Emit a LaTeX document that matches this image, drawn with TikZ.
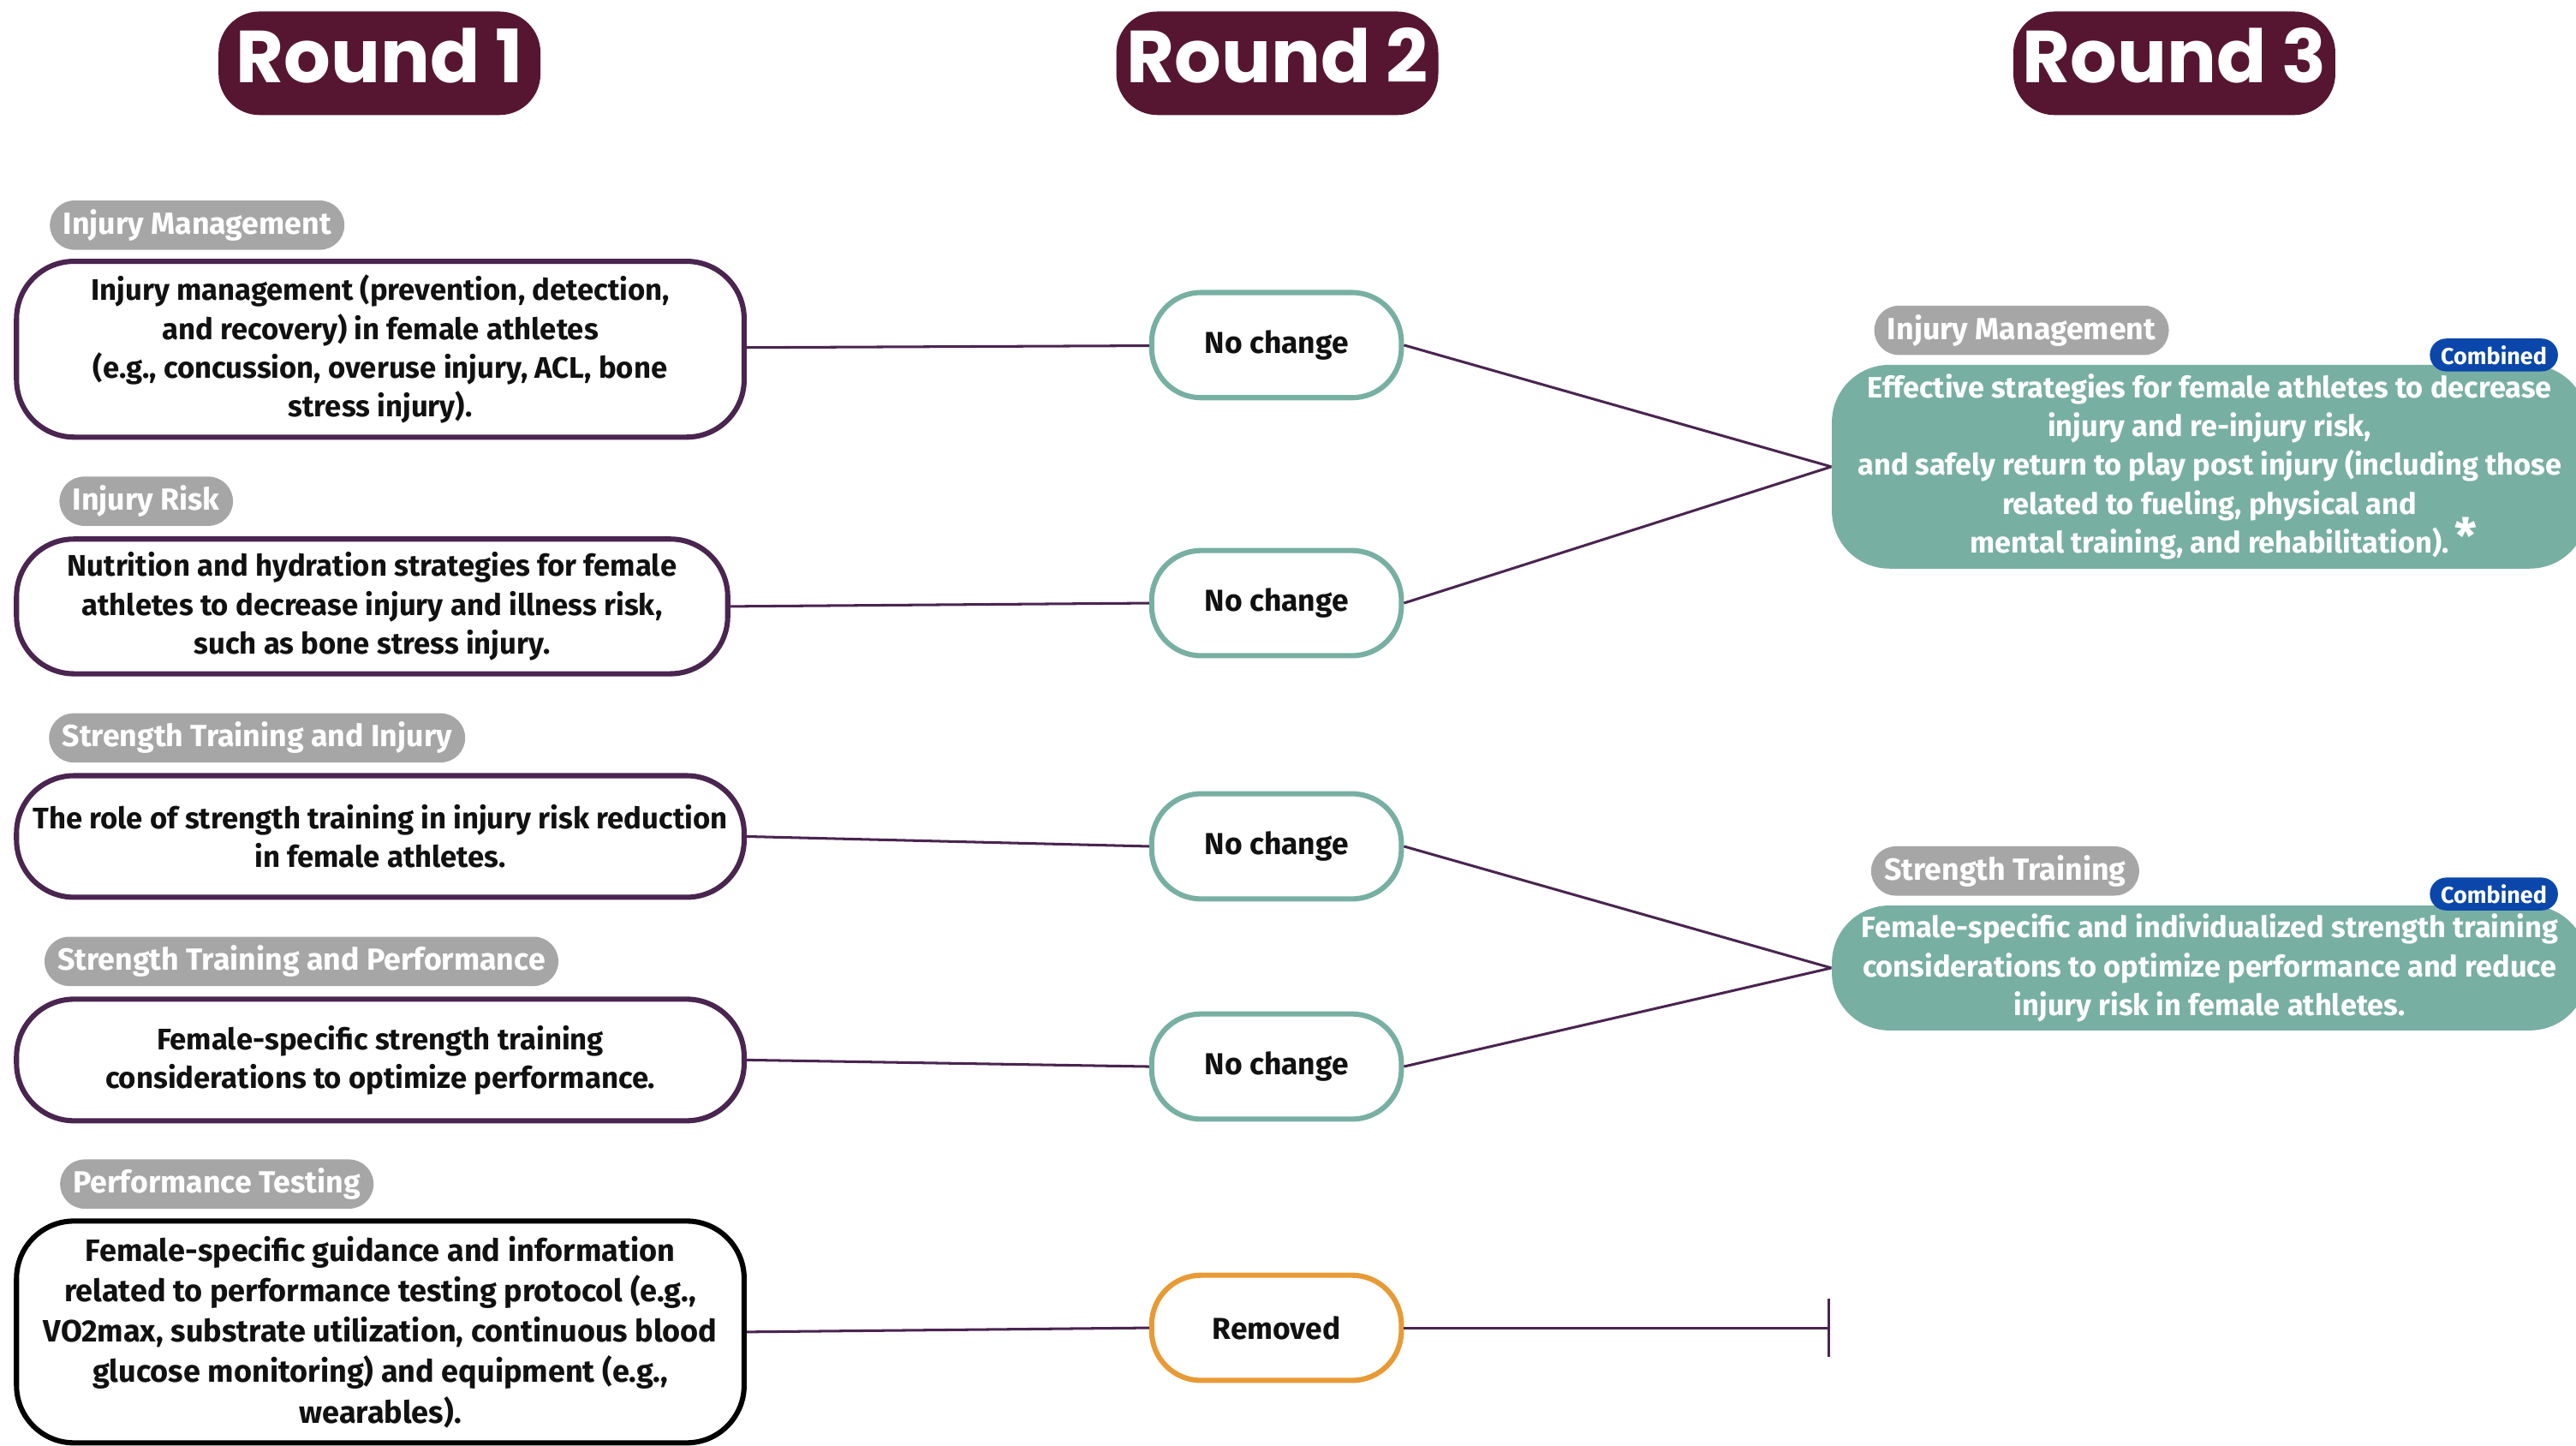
\documentclass[tikz,border=0pt]{standalone}
\usepackage{fontspec}
\setmainfont{Fira Sans}
\newfontfamily\titlefont{Poppins}
\usetikzlibrary{arrows.meta}

\definecolor{roundred}{HTML}{561631}
\definecolor{linepurple}{HTML}{4A2550}
\definecolor{keepteal}{HTML}{78AFA3}
\definecolor{droporange}{HTML}{E89A35}
\definecolor{taggray}{HTML}{A6A6A6}
\definecolor{combblue}{HTML}{0B47AA}
\definecolor{bodyblack}{HTML}{111111}

\tikzset{
  roundtitle/.style={fill=roundred, text=white, rounded corners=0.5cm,
    minimum width=3.92cm, minimum height=1.26cm, inner sep=0pt, text depth=0.2cm,
    font=\titlefont\bfseries\fontsize{25.5}{30}\selectfont},
  topicbox/.style={draw=linepurple, line width=1.8pt, fill=white, rounded corners=0.7cm,
    minimum width=8.86cm, inner sep=0pt, align=center, text=bodyblack,
    font=\bfseries\fontsize{10.3}{13.4}\selectfont},
  tagpill/.style={fill=taggray, text=white, rounded corners=0.3cm,
    minimum height=0.6cm, inner xsep=0.16cm, inner ysep=0pt,
    font=\bfseries\fontsize{10.6}{13}\selectfont},
  statuspill/.style={draw=keepteal, line width=1.8pt, fill=white, rounded corners=0.6cm,
    minimum width=3.04cm, minimum height=1.28cm, inner sep=0pt, text=bodyblack,
    font=\bfseries\fontsize{10.5}{12}\selectfont},
  mergedbox/.style={fill=keepteal, text=white, rounded corners=0.7cm,
    minimum width=9.2cm, inner sep=0pt, align=center,
    font=\bfseries\fontsize{10.2}{13.4}\selectfont},
  combinedtag/.style={fill=combblue, text=white, rounded corners=0.2cm,
    minimum width=1.56cm, minimum height=0.4cm, inner sep=0pt,
    font=\bfseries\fontsize{8}{9}\selectfont},
  link/.style={draw=linepurple, line width=0.9pt}
}

\begin{document}
\begin{tikzpicture}[x=0.02cm, y=-0.02cm]
  \useasboundingbox (0,0) rectangle (1568,879.4);

  % Round headers
  \node[roundtitle] (round1) at (231,38.5) {Round 1};
  \node[roundtitle] (round2) at (777.5,38.5) {Round 2};
  \node[roundtitle] (round3) at (1323.5,38.5) {Round 3};

  % Round 1 topics
  \node[tagpill] (tagIM) at (120,137) {Injury Management};
  \node[topicbox, minimum height=2.14cm] (injMan) at (231.5,212.5)
    {Injury management (prevention, detection,\\ and recovery) in female athletes\\
     (e.g., concussion, overuse injury, ACL, bone\\ stress injury).};
  \node[tagpill] (tagIR) at (89,305) {Injury Risk};
  \node[topicbox, minimum width=8.66cm, minimum height=1.64cm] (injRisk) at (226.5,369)
    {Nutrition and hydration strategies for female\\ athletes to decrease injury and illness risk,\\
     such as bone stress injury.};
  \node[tagpill] (tagSTI) at (156.5,449) {Strength Training and Injury};
  \node[topicbox, minimum height=1.48cm] (strInj) at (231.5,509)
    {The role of strength training in injury risk reduction\\ in female athletes.};
  \node[tagpill] (tagSTP) at (183.5,585) {Strength Training and Performance};
  \node[topicbox, minimum height=1.48cm] (strPerf) at (231.5,645)
    {Female-specific strength training\\ considerations to optimize performance.};
  \node[tagpill] (tagPT) at (132,720.5) {Performance Testing};
  \node[topicbox, draw=black, minimum height=2.7cm,
        font=\bfseries\fontsize{10.7}{14}\selectfont] (perfTest) at (231.5,810.5)
    {Female-specific guidance and information\\ related to performance testing protocol (e.g.,\\
     VO2max, substrate utilization, continuous blood\\ glucose monitoring) and equipment (e.g.,\\ wearables).};

  % Round 2 decisions
  \node[statuspill] (keep1) at (777,210) {No change};
  \node[statuspill] (keep2) at (777,367) {No change};
  \node[statuspill] (keep3) at (777,515) {No change};
  \node[statuspill] (keep4) at (777,649) {No change};
  \node[statuspill, draw=droporange] (drop5) at (777,808) {Removed};

  % Round 3 merged topics
  \node[tagpill] (tagIM3) at (1230.5,201) {Injury Management};
  \node[mergedbox, minimum height=2.48cm] (mergeInj) at (1345,284)
    {Effective strategies for female athletes to decrease\\ injury and re-injury risk,\\
     and safely return to play post injury (including those\\ related to fueling, physical and\\
     mental training, and rehabilitation).};
  \node[text=white, font=\bfseries\fontsize{17}{17}\selectfont] (star) at (1501,326) {*};
  \node[combinedtag] (comb1) at (1518,216) {Combined};
  \node[tagpill] (tagST3) at (1220.5,530) {Strength Training};
  \node[mergedbox, minimum height=1.52cm] (mergeStr) at (1345,589)
    {Female-specific and individualized strength training\\ considerations to optimize performance and reduce\\
     injury risk in female athletes.};
  \node[combinedtag] (comb2) at (1518,544) {Combined};
  \coordinate (stopEnd) at (1114,808);

  % Connectors
  \draw[link] (injMan) -- (keep1);
  \draw[link] (injRisk.east) -- (keep2.west);
  \draw[link] (strInj.east) -- (keep3.west);
  \draw[link] (strPerf.east) -- (keep4.west);
  \draw[link] (perfTest.east) -- (drop5.west);
  \draw[link] (keep1.east) -- (mergeInj.west);
  \draw[link] (keep2.east) -- (mergeInj.west);
  \draw[link] (keep3.east) -- (mergeStr.west);
  \draw[link] (keep4.east) -- (mergeStr.west);
  \draw[link, -{Bar[width=20pt]}] (drop5.east) -- (stopEnd);
\end{tikzpicture}
\end{document}
